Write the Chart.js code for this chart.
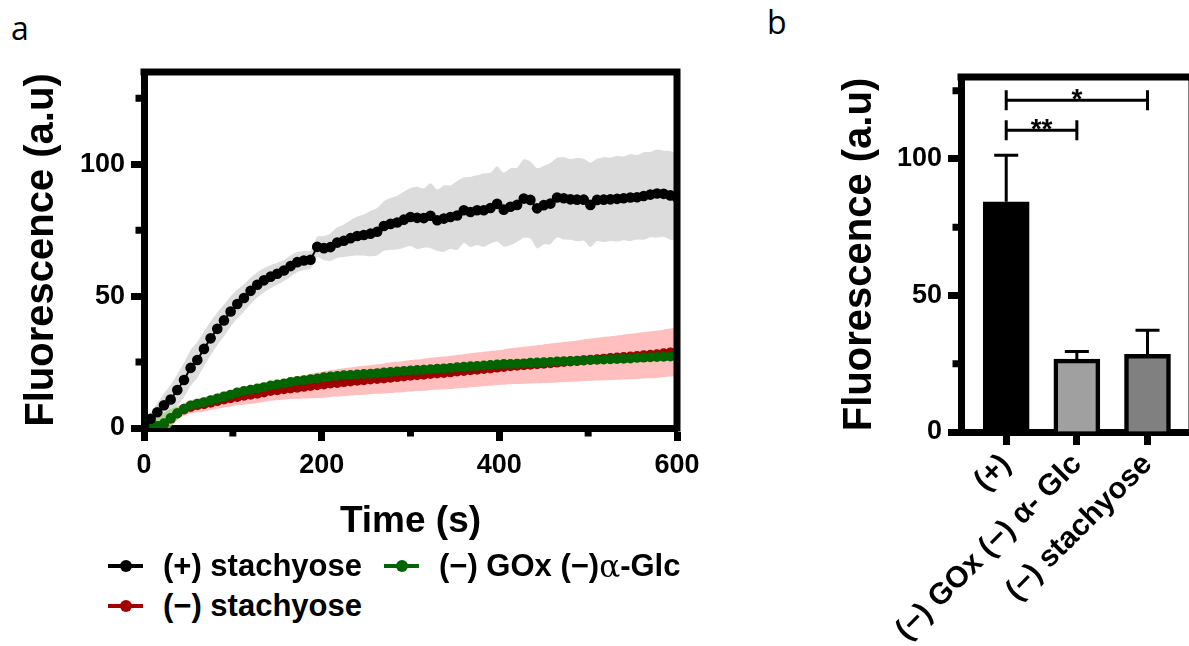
<!DOCTYPE html>
<html>
<head>
<meta charset="utf-8">
<script src="https://cdn.jsdelivr.net/npm/chart.js@4.4.1/dist/chart.umd.min.js"></script>
<style>
  html, body { margin: 0; padding: 0; background: #fff; overflow: hidden; }
  body { width: 1189px; height: 646px; position: relative; font-family: "Liberation Sans", Arial, sans-serif; }
  .letter { position: absolute; font-family: "Open Sans", sans-serif; font-size: 32px; line-height: 1; color: #000; }
  #wrapA { position: absolute; left: 0; top: 0; width: 720px; height: 560px; }
  #wrapB { position: absolute; left: 830px; top: 0; width: 370px; height: 646px; }
  .leg { position: absolute; height: 36px; display: flex; align-items: center; font-weight: bold; font-size: 31px; line-height: 36px; white-space: nowrap; color: #000; }
  .mk { position: relative; width: 35px; height: 12px; margin-right: 20px; }
  .mk::before { content: ''; position: absolute; left: 0; right: 0; top: 4px; height: 4px; background: var(--c); }
  .mk::after { content: ''; position: absolute; left: 12px; top: 0; width: 12px; height: 12px; border-radius: 50%; background: var(--c); }
  .alpha { font-family: "DejaVu Serif", "Liberation Serif", serif; font-weight: normal; }
</style>
</head>
<body>
<div class="letter" style="left:11px; top:12px;">a</div>
<div class="letter" style="left:767px; top:6px;">b</div>

<div id="wrapA"><canvas id="chartA" width="720" height="560"></canvas></div>
<div id="wrapB"><canvas id="chartB" width="370" height="646"></canvas></div>

<div class="leg" style="left:108px; top:548px;"><span class="mk" style="--c:#000000"></span>(+) stachyose</div>
<div class="leg" style="left:384px; top:548px;"><span class="mk" style="--c:#006400"></span>(−) GOx (−)<span class="alpha">α</span>-Glc</div>
<div class="leg" style="left:108px; top:588px;"><span class="mk" style="--c:#a00000"></span>(−) stachyose</div>

<script>
// ---- panel a: time course (mean ± SD) ----
const times = [
  0, 7.5, 15, 22.5, 30, 37.5, 45, 52.5, 60, 67.5,
  75, 82.5, 90, 97.5, 105, 112.5, 120, 127.5, 135, 142.5,
  150, 157.5, 165, 172.5, 180, 187.5, 195, 202.5, 210, 217.5,
  225, 232.5, 240, 247.5, 255, 262.5, 270, 277.5, 285, 292.5,
  300, 307.5, 315, 322.5, 330, 337.5, 345, 352.5, 360, 367.5,
  375, 382.5, 390, 397.5, 405, 412.5, 420, 427.5, 435, 442.5,
  450, 457.5, 465, 472.5, 480, 487.5, 495, 502.5, 510, 517.5,
  525, 532.5, 540, 547.5, 555, 562.5, 570, 577.5, 585, 592.5,
  600
];

const plusStachyose = [
  1.0, 3.5, 6.0, 8.6, 10.8, 14.4, 18.2, 22.8, 25.8, 30.0,
  34.0, 37.6, 40.8, 44.2, 47.0, 49.3, 52.0, 54.3, 56.0, 57.4,
  58.5, 59.7, 61.4, 62.9, 63.5, 63.8, 68.7, 68.2, 68.6, 70.3,
  71.0, 72.0, 72.8, 73.2, 73.7, 74.4, 76.6, 77.4, 77.9, 79.0,
  80.0, 79.7, 79.6, 80.5, 78.8, 79.4, 80.0, 80.6, 82.6, 81.9,
  82.6, 82.6, 83.4, 85.0, 82.8, 83.9, 84.6, 87.0, 86.5, 83.3,
  84.5, 85.1, 87.4, 87.1, 86.7, 86.6, 86.6, 84.6, 86.5, 86.6,
  86.7, 86.9, 87.1, 87.4, 87.5, 88.0, 88.5, 88.9, 88.8, 88.2,
  87.4
];
const plusStachyoseSD = [
  1.0, 2.5, 3.5, 4.5, 5.5, 6.0, 6.5, 6.8, 6.8, 6.6,
  6.4, 6.2, 6.0, 5.8, 5.5, 5.2, 5.0, 4.8, 4.6, 4.4,
  4.2, 4.0, 4.0, 3.8, 3.6, 3.4, 3.8, 4.6, 5.2, 5.8,
  6.2, 6.8, 7.4, 7.8, 8.6, 9.0, 9.4, 9.8, 10.2, 10.6,
  11.0, 11.8, 11.2, 12.3, 11.6, 12.6, 12.0, 13.1, 12.4, 13.3,
  13.2, 13.9, 13.4, 14.3, 14.0, 14.6, 14.1, 14.9, 14.6, 15.2,
  14.9, 15.4, 15.1, 15.6, 15.3, 15.8, 15.5, 16.0, 15.6, 16.1,
  15.8, 16.2, 15.9, 16.5, 16.0, 16.6, 16.2, 16.7, 16.3, 16.8,
  16.4
];

const minusStachyose = [
  0.0, 0.2, 0.6, 1.5, 3.5, 5.5, 7.0, 8.0, 8.6, 9.0,
  9.6, 10.2, 10.8, 11.3, 11.8, 12.2, 12.6, 13.0, 13.5, 14.0,
  14.3, 14.7, 15.0, 15.3, 15.6, 15.9, 16.2, 16.5, 16.9, 17.1,
  17.4, 17.6, 17.9, 18.1, 18.4, 18.6, 18.8, 19.1, 19.3, 19.5,
  19.8, 20.0, 20.2, 20.5, 20.7, 20.9, 21.1, 21.4, 21.6, 21.9,
  22.1, 22.4, 22.6, 22.9, 23.1, 23.4, 23.6, 23.8, 24.0, 24.2,
  24.4, 24.6, 24.8, 25.0, 25.2, 25.4, 25.7, 25.9, 26.1, 26.3,
  26.5, 26.7, 26.9, 27.1, 27.3, 27.6, 27.8, 28.0, 28.3, 28.6,
  28.8
];
const minusStachyoseSD = [
  0.5, 0.8, 1.2, 1.6, 2.0, 2.2, 2.4, 2.5, 2.6, 2.7,
  2.8, 2.9, 3.0, 3.1, 3.2, 3.3, 3.4, 3.5, 3.6, 3.7,
  3.8, 3.9, 4.0, 4.2, 4.4, 4.6, 4.8, 5.0, 5.1, 5.2,
  5.3, 5.3, 5.4, 5.5, 5.5, 5.6, 5.7, 5.8, 5.8, 5.9,
  6.0, 6.0, 6.1, 6.1, 6.2, 6.2, 6.3, 6.3, 6.4, 6.4,
  6.5, 6.5, 6.6, 6.6, 6.7, 6.8, 6.9, 7.0, 7.1, 7.2,
  7.3, 7.4, 7.5, 7.6, 7.7, 7.8, 7.9, 8.0, 8.1, 8.2,
  8.3, 8.4, 8.5, 8.6, 8.7, 8.8, 8.9, 9.0, 9.0, 9.1,
  9.2
];

const minusGOx = [
  0.0, 0.3, 0.8, 1.8, 3.8, 5.6, 7.3, 8.5, 9.2, 9.8,
  10.5, 11.2, 11.9, 12.6, 13.5, 14.0, 14.5, 15.0, 15.5, 16.1,
  16.5, 16.9, 17.4, 17.8, 18.1, 18.5, 18.8, 19.2, 19.5, 19.7,
  20.0, 20.1, 20.3, 20.5, 20.6, 20.8, 21.0, 21.2, 21.4, 21.6,
  21.8, 22.0, 22.1, 22.3, 22.5, 22.6, 22.8, 23.0, 23.2, 23.4,
  23.5, 23.7, 23.9, 24.1, 24.3, 24.3, 24.4, 24.5, 24.7, 24.8,
  24.9, 25.0, 25.2, 25.3, 25.4, 25.5, 25.6, 25.8, 25.9, 26.0,
  26.1, 26.2, 26.3, 26.4, 26.6, 26.7, 26.8, 26.9, 27.0, 27.1,
  27.2
];
const minusGOxSD = [
  1.0, 2.2, 3.2, 3.8, 3.4, 2.6, 1.8, 1.5, 1.3, 1.3,
  1.3, 1.3, 1.3, 1.3, 1.3, 1.3, 1.3, 1.3, 1.3, 1.3,
  1.3, 1.3, 1.3, 1.3, 1.3, 1.3, 1.3, 1.3, 1.3, 1.3,
  1.3, 1.3, 1.3, 1.4, 1.4, 1.4, 1.4, 1.4, 1.4, 1.4,
  1.4, 1.4, 1.4, 1.4, 1.4, 1.4, 1.4, 1.4, 1.4, 1.4,
  1.5, 1.5, 1.5, 1.5, 1.5, 1.5, 1.5, 1.5, 1.5, 1.5,
  1.5, 1.5, 1.5, 1.5, 1.5, 1.5, 1.5, 1.5, 1.5, 1.5,
  1.6, 1.6, 1.6, 1.6, 1.6, 1.6, 1.6, 1.6, 1.6, 1.6,
  1.6
];

const xMajorTicks = [0, 200, 400, 600];
const xMinorTicks = [100, 300, 500];
const yMajorTicksA = [0, 50, 100];
const yMinorTicksA = [25, 75, 125];

// ---- panel b: end-point bars ----
const barLabels = ['(+)', '(−) GOx (−) α- Glc', '(−) stachyose'];
const barMeans = [84.3, 26.7, 28.4];
const barSD = [17.0, 2.8, 8.9];
const barColors = ['#000000', '#a0a0a0', '#808080'];
const sigFrom = [0, 0];
const sigTo = [1, 2];
const sigLevel = [110.5, 121.5];
const sigText = ['**', '*'];
const yMajorTicksB = [0, 50, 100];
const yMinorTicksB = [25, 75, 125];

const AXIS_W = 7;
const tickFont = { family: 'Liberation Sans', size: 27, weight: 'bold' };

Chart.defaults.font.family = 'Liberation Sans';
Chart.defaults.color = '#000';
Chart.defaults.animation = false;

// box frame (top + right) and short minor ticks
const framePlugin = {
  id: 'frame',
  afterDraw(chart, args, opts) {
    const { ctx, chartArea: a, scales } = chart;
    ctx.save();
    ctx.strokeStyle = '#000';
    ctx.lineWidth = AXIS_W;
    ctx.lineCap = 'butt';
    ctx.beginPath();
    ctx.moveTo(a.left - AXIS_W / 2, a.top);
    ctx.lineTo(a.right + AXIS_W / 2, a.top);
    ctx.moveTo(a.right, a.top);
    ctx.lineTo(a.right, a.bottom + AXIS_W / 2);
    ctx.stroke();
    const len = opts.minorLen || 9;
    ctx.beginPath();
    (opts.xMinor || []).forEach(v => {
      const px = scales.x.getPixelForValue(v);
      ctx.moveTo(px, a.bottom);
      ctx.lineTo(px, a.bottom + AXIS_W / 2 + len);
    });
    (opts.yMinor || []).forEach(v => {
      const py = scales.y.getPixelForValue(v);
      ctx.moveTo(a.left, py);
      ctx.lineTo(a.left - AXIS_W / 2 - len, py);
    });
    ctx.stroke();
    ctx.restore();
  }
};

function pts(vals) { return vals.map((v, i) => ({ x: times[i], y: v })); }
function edge(vals, sd, sign) { return vals.map((v, i) => ({ x: times[i], y: v + sign * sd[i] })); }

function meanLine(label, vals, color, order, r) {
  return {
    label, data: pts(vals), order,
    borderColor: color, backgroundColor: color, borderWidth: 2,
    pointRadius: r, pointBorderWidth: 0, pointBackgroundColor: color,
    tension: 0, fill: false
  };
}
function bandEdge(vals, sd, sign, fillColor, order) {
  return {
    data: edge(vals, sd, sign), order,
    borderWidth: 0, borderColor: 'rgba(0,0,0,0)', pointRadius: 0,
    tension: 0.2, backgroundColor: fillColor,
    fill: sign > 0 ? '+1' : false
  };
}

new Chart(document.getElementById('chartA'), {
  type: 'line',
  data: {
    datasets: [
      meanLine('(+) stachyose', plusStachyose, '#000000', 0, 5.3),
      meanLine('(−) GOx (−)α-Glc', minusGOx, '#006400', 1, 5.0),
      meanLine('(−) stachyose', minusStachyose, '#a00000', 2, 5.0),
      bandEdge(minusGOx, minusGOxSD, 1, 'rgba(160,210,125,0.8)', 3),
      bandEdge(minusGOx, minusGOxSD, -1, 'rgba(160,210,125,0.8)', 3),
      bandEdge(minusStachyose, minusStachyoseSD, 1, 'rgba(255,0,0,0.25)', 4),
      bandEdge(minusStachyose, minusStachyoseSD, -1, 'rgba(255,0,0,0.25)', 4),
      bandEdge(plusStachyose, plusStachyoseSD, 1, '#dcdcdc', 5),
      bandEdge(plusStachyose, plusStachyoseSD, -1, '#dcdcdc', 5)
    ]
  },
  options: {
    responsive: false,
    layout: { padding: { left: 0, top: 72, right: 43, bottom: 0 } },
    plugins: {
      legend: { display: false },
      tooltip: { enabled: false },
      frame: { xMinor: xMinorTicks, yMinor: yMinorTicksA, minorLen: 5 }
    },
    scales: {
      x: {
        type: 'linear', min: 0, max: 600,
        afterBuildTicks: s => { s.ticks = xMajorTicks.map(v => ({ value: v })); },
        afterFit: s => { s.height = 132; },
        ticks: { font: tickFont, color: '#000', padding: 8, maxRotation: 0 },
        grid: { drawOnChartArea: false, drawTicks: true, tickLength: 13, tickWidth: AXIS_W, tickColor: '#000' },
        border: { display: true, width: AXIS_W, color: '#000' },
        title: { display: true, text: 'Time (s)', color: '#000',
                 font: { family: 'Liberation Sans', size: 37, weight: 'bold', lineHeight: 1 },
                 padding: { top: 0, bottom: 20 } }
      },
      y: {
        type: 'linear', min: 0, max: 135,
        afterBuildTicks: s => { s.ticks = yMajorTicksA.map(v => ({ value: v })); },
        afterFit: s => { s.width = 144; },
        ticks: { font: tickFont, color: '#000', padding: 6 },
        grid: { drawOnChartArea: false, drawTicks: true, tickLength: 13, tickWidth: AXIS_W, tickColor: '#000' },
        border: { display: true, width: AXIS_W, color: '#000' },
        title: { display: true, text: 'Fluorescence (a.u)', color: '#000',
                 font: { family: 'Liberation Sans', size: 40, weight: 'bold', lineHeight: 1 },
                 padding: { top: 22, bottom: 0 } }
      }
    }
  },
  plugins: [framePlugin]
});

// error bars and significance brackets for panel b
const barExtras = {
  id: 'barExtras',
  afterDatasetsDraw(chart) {
    const { ctx, scales: { x, y } } = chart;
    ctx.save();
    ctx.strokeStyle = '#000';
    ctx.fillStyle = '#000';
    ctx.lineWidth = 3;
    barMeans.forEach((m, i) => {
      const px = x.getPixelForValue(i + 1);
      const top = y.getPixelForValue(m + barSD[i]);
      ctx.beginPath();
      ctx.moveTo(px, y.getPixelForValue(m));
      ctx.lineTo(px, top);
      ctx.moveTo(px - 12, top);
      ctx.lineTo(px + 12, top);
      ctx.stroke();
    });
    ctx.font = 'bold 28px "Liberation Sans"';
    ctx.textAlign = 'center';
    ctx.textBaseline = 'alphabetic';
    sigLevel.forEach((lvl, k) => {
      const x1 = x.getPixelForValue(sigFrom[k] + 1);
      const x2 = x.getPixelForValue(sigTo[k] + 1);
      const py = y.getPixelForValue(lvl);
      ctx.beginPath();
      ctx.moveTo(x1, py); ctx.lineTo(x2, py);
      ctx.moveTo(x1, py - 10); ctx.lineTo(x1, py + 10);
      ctx.moveTo(x2, py - 10); ctx.lineTo(x2, py + 10);
      ctx.stroke();
      ctx.fillText(sigText[k], (x1 + x2) / 2, py + 8);
    });
    ctx.restore();
  }
};

new Chart(document.getElementById('chartB'), {
  type: 'bar',
  data: {
    datasets: [{
      data: barMeans.map((v, i) => ({ x: i + 1, y: v })),
      backgroundColor: barColors,
      borderColor: '#000',
      borderWidth: 4.5,
      barThickness: 46
    }]
  },
  options: {
    responsive: false,
    layout: { padding: { left: 0, top: 77, right: 8, bottom: 0 } },
    plugins: {
      legend: { display: false },
      tooltip: { enabled: false },
      frame: { xMinor: [], yMinor: yMinorTicksB, minorLen: 5 }
    },
    scales: {
      x: {
        type: 'linear', min: 0.36, max: 3.63, offset: false,
        afterBuildTicks: s => { s.ticks = [1, 2, 3].map(v => ({ value: v })); },
        afterFit: s => { s.height = 214; },
        ticks: { font: { family: 'Liberation Sans', size: 30, weight: 'bold' }, color: '#000', padding: 2,
                 minRotation: 45, maxRotation: 45, autoSkip: false,
                 callback: v => barLabels[v - 1] },
        grid: { offset: false, drawOnChartArea: false, drawTicks: true, tickLength: 13, tickWidth: AXIS_W, tickColor: '#000' },
        border: { display: true, width: AXIS_W, color: '#000' }
      },
      y: {
        type: 'linear', min: 0, max: 130,
        afterBuildTicks: s => { s.ticks = yMajorTicksB.map(v => ({ value: v })); },
        afterFit: s => { s.width = 131; },
        ticks: { font: tickFont, color: '#000', padding: 6 },
        grid: { drawOnChartArea: false, drawTicks: true, tickLength: 13, tickWidth: AXIS_W, tickColor: '#000' },
        border: { display: true, width: AXIS_W, color: '#000' },
        title: { display: true, text: 'Fluorescence (a.u)', color: '#000',
                 font: { family: 'Liberation Sans', size: 40, weight: 'bold', lineHeight: 1 },
                 padding: { top: 10, bottom: 0 } }
      }
    }
  },
  plugins: [framePlugin, barExtras]
});
</script>
</body>
</html>
